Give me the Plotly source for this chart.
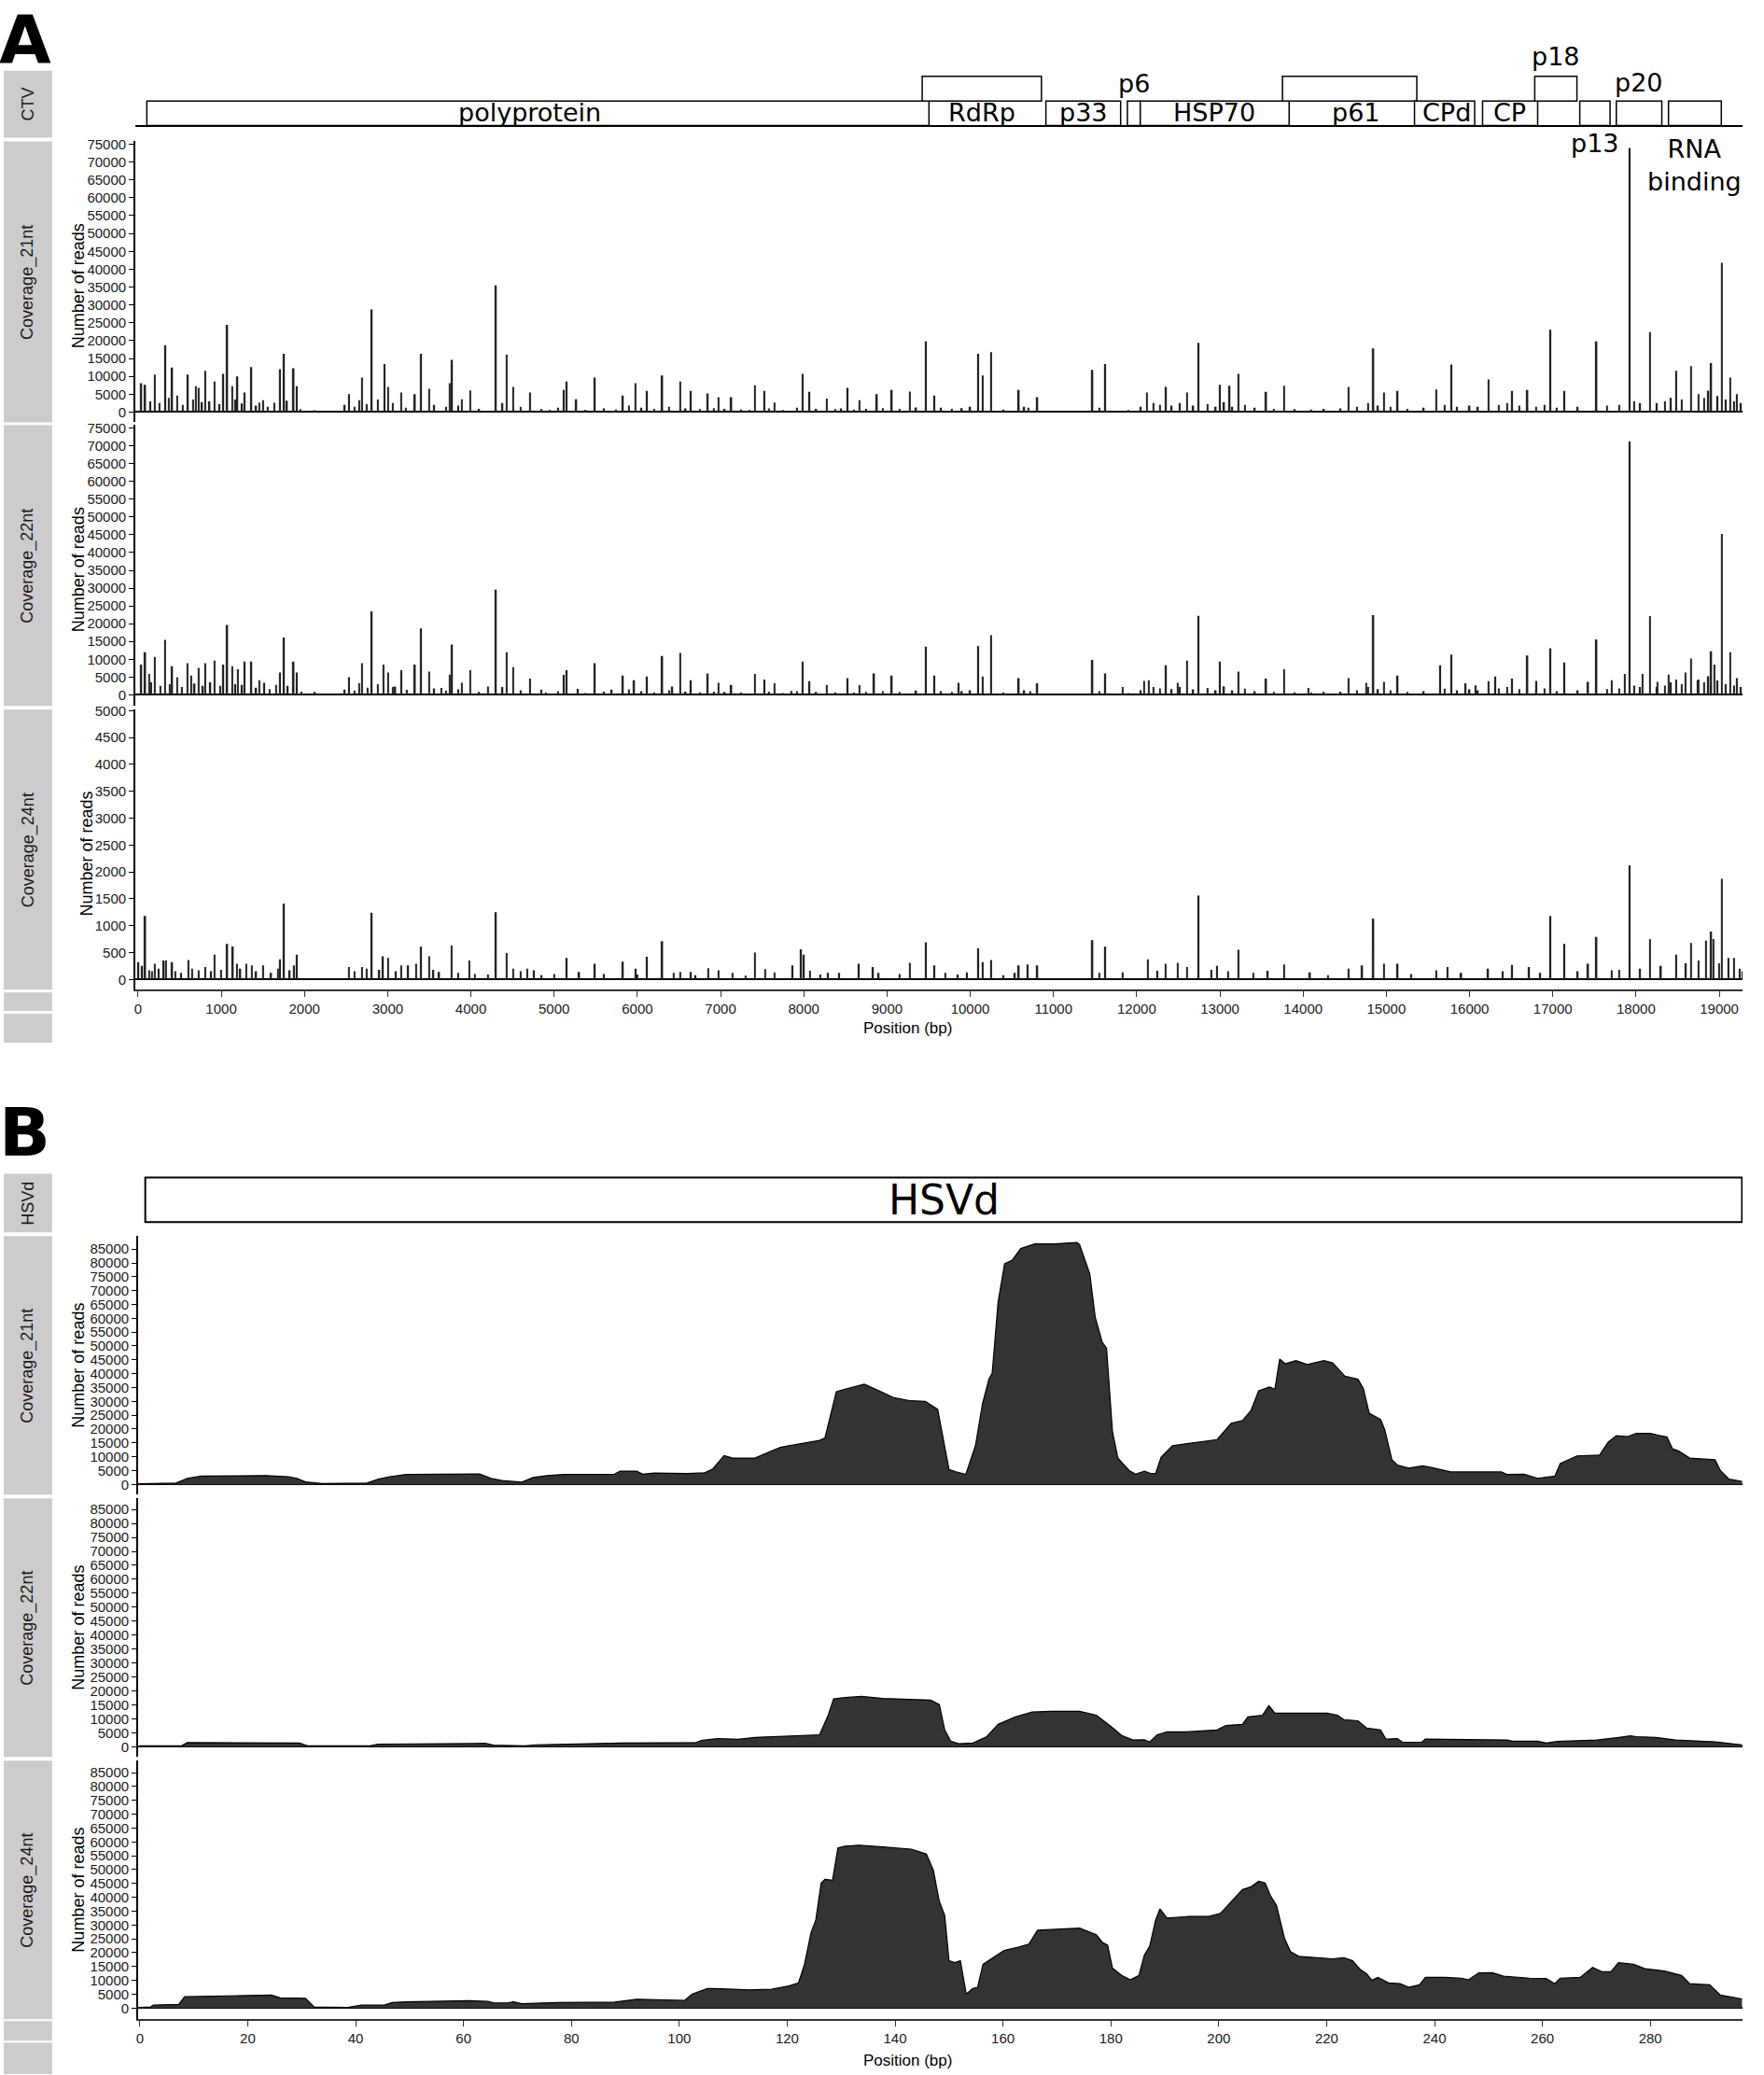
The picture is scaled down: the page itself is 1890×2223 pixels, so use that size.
import plotly.graph_objects as go

# ---- CTV genome annotation (bp) ----
ctv_gene_names = ["polyprotein", "RdRp", "p33", "p6", "HSP70", "p61", "CPd", "CP",
                  "p18", "p13", "p20", "RNA<br>binding"]
ctv_gene_start = [106, 9423, 10909, 11888, 12043, 13752, 15338, 16156, 16783, 17324, 17763, 18390]
ctv_gene_end = [9504, 10855, 11807, 12043, 13832, 15366, 16061, 16818, 17290, 17688, 18310, 19025]
ctv_gene_row = [0, 1, 0, 0, 0, 1, 0, 0, 1, 0, 0, 0]

# ---- CTV coverage, (position, reads) ----
ctv_21nt = [
    (40, 8080), (87, 7650), (202, 10510), (330, 18680), (411, 12430), (472, 4610), (600, 10510),
    (695, 7210), (729, 6780), (810, 11560), (918, 8520), (1026, 10690), (1073, 24420), (1134, 7210),
    (1195, 9990), (1282, 5470), (1363, 12600), (1458, 2690), (1505, 3300), (1708, 11990), (1755, 16340),
    (1870, 12250), (1910, 7210), (2126, 260), (2484, 2000), (2538, 5040), (2660, 3300), (2694, 9650),
    (2809, 28760), (2964, 13470), (3004, 7040), (3160, 5470), (3328, 5040), (3403, 16340), (3497, 6520),
    (3747, 8080), (3774, 14600), (3889, 3560), (3990, 6080), (4301, 35450), (4429, 16080), (4510, 7040),
    (4713, 5470), (5118, 6170), (5152, 8520), (5267, 3560), (5490, 9650), (5827, 4610), (5976, 8080),
    (6117, 5910), (6300, 10250), (6516, 8520), (6644, 5910), (6847, 5210), (6975, 4170), (7130, 4170),
    (7414, 7470), (7529, 5910), (7650, 2690), (7988, 10690), (8069, 5650), (8278, 3740), (8528, 6780),
    (8670, 3300), (8879, 5040), (9058, 6170), (9274, 5740), (9470, 19810), (9571, 4610), (10098, 16340),
    (10152, 10250), (10253, 16770), (10584, 6170), (10807, 4170), (11469, 11820), (11624, 13470),
    (12124, 5470), (12353, 7040), (12603, 5470), (12745, 19380), (13002, 7650), (13117, 7390),
    (13225, 10690), (13556, 5650), (13772, 7390), (14548, 7040), (14845, 17810), (14974, 5470),
    (15136, 5910), (15602, 6340), (15784, 13300), (16230, 9120), (16513, 5910), (16696, 6170),
    (16973, 23030), (17141, 5910), (17526, 19810), (17925, 73950), (18168, 22420), (18485, 11560),
    (18661, 12860), (18904, 13730), (19032, 41800), (19133, 9650), (19214, 5040),
    # low background
    (150, 3000), (260, 2500), (370, 4000), (540, 2000), (660, 3500), (770, 2800), (860, 3000),
    (980, 2200), (1170, 3500), (1250, 2400), (1420, 1800), (1560, 1500), (1640, 2600), (1790, 3200),
    (1950, 800), (2600, 1500), (2750, 2200), (2880, 3500), (3060, 2500), (3220, 1200), (3560, 2000),
    (3700, 1500), (3850, 1800), (4100, 900), (4380, 2500), (4600, 1500), (4850, 800), (4950, 600),
    (5050, 1200), (5380, 600), (5600, 1000), (5740, 700), (5900, 1800), (6050, 1200), (6200, 900),
    (6380, 1500), (6580, 1000), (6750, 800), (6920, 1100), (7050, 900), (7250, 700), (7350, 600),
    (7580, 1000), (7750, 600), (7920, 1200), (8150, 900), (8380, 800), (8450, 1000), (8600, 700),
    (8750, 900), (8950, 1100), (9150, 900), (9350, 1300), (9650, 1200), (9780, 900), (9900, 1100),
    (10000, 1500), (10400, 700), (10650, 1500), (10700, 1200), (11550, 1200), (11900, 600),
    (12050, 1500), (12200, 2500), (12280, 2000), (12420, 1800), (12520, 2500), (12680, 1800),
    (12850, 2200), (12950, 1500), (13050, 2800), (13150, 1500), (13300, 2000), (13420, 1200),
    (13650, 900), (13900, 800), (14100, 700), (14250, 900), (14450, 1000), (14650, 1500),
    (14780, 2500), (14900, 1800), (15050, 1500), (15250, 900), (15450, 1200), (15700, 2000),
    (15850, 1500), (16000, 1800), (16100, 1500), (16350, 2000), (16450, 2500), (16600, 1800),
    (16800, 1500), (16900, 2000), (17050, 1200), (17300, 1500), (17650, 1800), (17800, 2000),
    (17980, 3000), (18050, 2500), (18250, 2500), (18350, 3000), (18420, 4000), (18550, 3500),
    (18750, 5000), (18820, 4000), (18870, 6000), (18980, 4500), (19080, 3500), (19180, 3000),
    (19260, 2500),
]

ctv_22nt = [
    (40, 8460), (87, 11950), (134, 5840), (202, 10640), (323, 15430), (411, 8020), (472, 4970),
    (593, 8900), (641, 5400), (729, 7590), (810, 8900), (918, 9590), (1026, 8460), (1073, 19620),
    (1134, 8020), (1201, 7150), (1282, 9330), (1363, 9330), (1458, 4100), (1519, 3400), (1708, 6280),
    (1755, 16130), (1870, 9330), (1910, 6280), (2126, 780), (2484, 1480), (2538, 4970), (2660, 3230),
    (2694, 8900), (2809, 23460), (2950, 8460), (3004, 6280), (3092, 2350), (3166, 6890), (3328, 8460),
    (3403, 18660), (3497, 6540), (3646, 1920), (3747, 5670), (3774, 14130), (3889, 3400), (3990, 6890),
    (4206, 2350), (4301, 29560), (4429, 11950), (4510, 7760), (4713, 4530), (4848, 1480), (5118, 5580),
    (5152, 6890), (5287, 1660), (5490, 8900), (5692, 1480), (5827, 5400), (5962, 4100), (6117, 5140),
    (6300, 10900), (6421, 2350), (6516, 11770), (6644, 4100), (6847, 6020), (6975, 3400), (7130, 2790),
    (7414, 5840), (7529, 4270), (7650, 3230), (7853, 1050), (7988, 9330), (8069, 3840), (8278, 2790),
    (8528, 4710), (8670, 2700), (8845, 6020), (9058, 5400), (9470, 13520), (9571, 5400), (9862, 3400),
    (10098, 13690), (10152, 5140), (10253, 16740), (10584, 4710), (10807, 3230), (11469, 9770),
    (11624, 6020), (11833, 2180), (12090, 3920), (12144, 4100), (12353, 8280), (12495, 3400),
    (12603, 9590), (12745, 22240), (13002, 9330), (13225, 6540), (13556, 4530), (13772, 7150),
    (14062, 1920), (14548, 4710), (14757, 3400), (14845, 22410), (14974, 3660), (15136, 5400),
    (15649, 8280), (15784, 11340), (15953, 3230), (16074, 2620), (16230, 3840), (16311, 5140),
    (16513, 4530), (16696, 11070), (16804, 3920), (16973, 13080), (17141, 9070), (17425, 3660),
    (17526, 15610), (17709, 4100), (17864, 5840), (17925, 71240), (18080, 5840), (18168, 22150),
    (18256, 3660), (18391, 5670), (18485, 4270), (18593, 6280), (18661, 10200), (18742, 4100),
    (18904, 12210), (18944, 8460), (19032, 45260), (19133, 11950), (19214, 4710),
    # low background
    (160, 3500), (270, 2500), (380, 3000), (530, 2200), (680, 3200), (780, 2500), (870, 3500),
    (990, 2500), (1170, 3000), (1250, 2800), (1420, 2000), (1580, 1600), (1660, 2800), (1800, 2500),
    (1960, 900), (2600, 1200), (2760, 2000), (2880, 3000), (3060, 2200), (3230, 1400), (3560, 1800),
    (3700, 1200), (3850, 1500), (4100, 800), (4380, 2200), (4600, 1300), (4900, 700), (5050, 1000),
    (5380, 500), (5600, 900), (5900, 1500), (6050, 1000), (6200, 700), (6380, 1300), (6580, 900),
    (6750, 700), (6920, 900), (7050, 800), (7250, 600), (7580, 900), (7750, 500), (7920, 1000),
    (8150, 800), (8380, 700), (8600, 600), (8750, 800), (8950, 1000), (9150, 800), (9350, 1200),
    (9650, 1000), (9780, 800), (9900, 1000), (10000, 1300), (10400, 600), (10650, 1300),
    (10720, 1000), (11550, 1000), (11900, 500), (12050, 1300), (12200, 2200), (12280, 1800),
    (12420, 1600), (12520, 2200), (12680, 1500), (12850, 1900), (12950, 1300), (13050, 2400),
    (13150, 1300), (13300, 1700), (13420, 1000), (13650, 800), (13900, 700), (14100, 600),
    (14250, 800), (14450, 900), (14650, 1300), (14780, 2200), (14900, 1600), (15050, 1300),
    (15250, 800), (15450, 1000), (15700, 1700), (15850, 1300), (16000, 1500), (16100, 1300),
    (16350, 1800), (16450, 2200), (16600, 1600), (16800, 1300), (16900, 1800), (17050, 1000),
    (17300, 1300), (17650, 1600), (17800, 1800), (17980, 2600), (18050, 2200), (18250, 2200),
    (18350, 2600), (18420, 3500), (18550, 3000), (18750, 4300), (18820, 3500), (18870, 5200),
    (18980, 4000), (19080, 3000), (19180, 2600), (19260, 2200),
]

ctv_24nt = [
    (6, 320), (87, 1180), (134, 170), (202, 290), (310, 350), (337, 350), (411, 320), (607, 360),
    (729, 170), (810, 230), (918, 460), (1073, 660), (1140, 610), (1188, 290), (1303, 290),
    (1370, 260), (1505, 260), (1708, 375), (1755, 1410), (1823, 170), (1877, 260), (1910, 460),
    (2532, 230), (2694, 230), (2809, 1240), (2944, 430), (3004, 400), (3160, 260), (3247, 260),
    (3342, 290), (3403, 610), (3497, 430), (3619, 140), (3767, 630), (3983, 350), (4206, 90),
    (4301, 1250), (4429, 490), (4510, 200), (4679, 200), (4760, 170), (5152, 400), (5301, 140),
    (5490, 290), (5827, 330), (5982, 200), (6117, 420), (6300, 710), (6435, 120), (6516, 140),
    (6644, 140), (6853, 210), (6975, 170), (7144, 120), (7414, 500), (7535, 190), (7650, 130),
    (7866, 260), (7968, 560), (8002, 460), (8076, 160), (8292, 120), (8427, 120), (8663, 290),
    (8832, 230), (9274, 310), (9470, 690), (9571, 260), (9963, 130), (10098, 580), (10152, 320),
    (10253, 360), (10537, 120), (10584, 260), (10692, 280), (10807, 260), (11469, 730), (11624, 610),
    (11833, 130), (12137, 375), (12347, 290), (12495, 310), (12603, 230), (12745, 1560), (12968, 250),
    (13225, 550), (13576, 160), (13772, 280), (14083, 130), (14548, 200), (14710, 260), (14845, 1130),
    (14974, 290), (15136, 290), (15602, 170), (15737, 230), (16223, 200), (16513, 270), (16716, 230),
    (16973, 1180), (17141, 660), (17425, 290), (17526, 790), (17709, 170), (17925, 2120),
    (18168, 750), (18485, 460), (18661, 675), (18843, 720), (18904, 890), (18931, 750),
    (19032, 1870), (19113, 400), (19180, 400), (19248, 200),
    # low background
    (50, 250), (170, 150), (250, 200), (450, 150), (520, 120), (650, 200), (880, 150), (1000, 180),
    (1230, 200), (1420, 150), (1600, 120), (1680, 200), (2600, 150), (2750, 200), (2900, 180),
    (3100, 150), (3550, 180), (3850, 120), (4050, 100), (4600, 150), (4850, 80), (5000, 100),
    (5600, 100), (6000, 90), (6700, 80), (7300, 70), (8200, 90), (8900, 120), (9150, 100),
    (9700, 120), (9850, 90), (10400, 80), (11550, 120), (12250, 160), (12900, 180), (13100, 150),
    (13400, 120), (14300, 80), (15300, 100), (15900, 120), (16400, 150), (16850, 120), (17300, 150),
    (17800, 180), (18050, 200), (18300, 250), (18600, 300), (18750, 350), (19000, 300), (19280, 150),
]

# ---- HSVd coverage, (position, reads) ----
hsvd_21nt = [
    (0, 200), (6.7, 500), (8.8, 2200), (11.4, 3000), (23.4, 3200), (27.6, 2800), (29.1, 2200),
    (30.7, 900), (33.8, 300), (42.1, 500), (44.2, 1900), (46.3, 2800), (49.4, 3600), (63.0, 3800),
    (65.1, 2200), (67.1, 1400), (70.8, 800), (72.9, 2500), (75.5, 3200), (78.6, 3600), (88.0, 3700),
    (89.0, 4800), (92.1, 4800), (93.2, 3700), (95.3, 4100), (101.5, 3900), (104.7, 4200),
    (106.2, 5600), (108.3, 10400), (109.9, 9500), (114.0, 9500), (116.1, 11200), (118.7, 13400),
    (121.3, 14300), (123.4, 15100), (126.0, 15900), (127.0, 16800), (129.1, 33500), (130.7, 34400),
    (134.3, 36200), (137.7, 33200), (139.8, 31300), (142.9, 30200), (145.6, 30000), (147.9, 27100),
    (150.0, 5400), (151.3, 4500), (153.1, 3600), (154.9, 14000), (156.2, 29100), (157.4, 38000),
    (158.0, 40200), (159.1, 66000), (160.3, 79700), (161.7, 81000), (163.3, 85200), (165.9, 86900),
    (169.6, 86900), (173.7, 87400), (174.2, 86600), (176.1, 76000), (177.1, 60400), (178.4, 51400),
    (179.2, 49200), (180.3, 19000), (181.3, 9500), (183.4, 5000), (184.6, 3700), (186.2, 4800),
    (187.5, 3900), (188.3, 3900), (189.3, 9800), (191.4, 14000), (194.5, 14900), (199.7, 16200),
    (202.3, 22100), (204.4, 23100), (206.0, 26800), (207.4, 33800), (209.4, 35200), (210.4, 34400),
    (211.3, 45300), (212.3, 43600), (214.3, 44700), (216.4, 43300), (219.5, 44700), (221.1, 43900),
    (223.4, 39100), (225.8, 38000), (226.8, 34700), (227.9, 25700), (230.0, 23500), (230.8, 19600),
    (232.1, 8900), (233.1, 7000), (235.2, 5900), (237.8, 6700), (239.4, 6100), (243.0, 4500),
    (252.4, 4500), (253.4, 3600), (256.6, 3700), (259.1, 2200), (262.3, 3000), (263.3, 7500),
    (266.4, 10300), (270.6, 10600), (272.2, 15300), (273.7, 17600), (275.8, 17300), (277.4, 18400),
    (280.0, 18400), (283.1, 17100), (284.1, 12900), (285.2, 12100), (287.3, 9500), (292.0, 8900),
    (293.0, 5000), (294.6, 1900), (297.0, 1100),
]

hsvd_22nt = [
    (0, 270), (7.8, 400), (8.8, 1470), (29.6, 1330), (31.2, 270), (42.6, 270), (44.2, 930),
    (64.0, 1200), (65.6, 530), (71.3, 270), (73.4, 670), (89.0, 1330), (103.1, 1470), (104.1, 2270),
    (107.2, 2930), (110.9, 2670), (114.0, 3330), (124.4, 4000), (126.0, 4270), (127.6, 11300),
    (128.6, 17100), (130.7, 17600), (133.8, 18000), (137.7, 17300), (146.6, 16700), (148.2, 15100),
    (149.2, 6000), (150.3, 2000), (151.8, 1070), (154.4, 1330), (157.0, 3600), (159.1, 8000),
    (162.3, 10700), (165.4, 12400), (169.0, 12700), (174.2, 12700), (177.3, 11300), (180.0, 7300),
    (182.0, 4000), (184.1, 2400), (186.2, 2500), (187.2, 1700), (188.6, 4300), (190.4, 5300),
    (194.0, 5300), (199.7, 6000), (201.3, 7600), (204.4, 8000), (205.4, 10700), (208.1, 11300),
    (209.3, 14700), (210.4, 12000), (220.1, 12000), (222.0, 11300), (223.2, 9700), (225.8, 9300),
    (227.4, 6700), (230.0, 6000), (231.0, 2700), (233.1, 2900), (234.1, 1600), (237.6, 1600),
    (238.3, 2700), (253.4, 2400), (254.4, 2000), (259.1, 2000), (260.7, 1330), (262.8, 1870),
    (270.1, 2400), (274.2, 3330), (276.3, 3870), (277.4, 3600), (281.0, 3330), (284.7, 2400),
    (292.0, 1730), (297.0, 670),
]

hsvd_24nt = [
    (0, 270), (2.0, 400), (2.5, 1070), (7.2, 1340), (8.3, 4100), (24.4, 4700), (26.0, 3700),
    (30.7, 3500), (32.3, 400), (38.5, 270), (41.1, 1070), (45.3, 1070), (46.8, 2000), (49.4, 2270),
    (60.9, 2670), (64.5, 2400), (65.6, 1870), (68.2, 1870), (69.2, 2270), (70.8, 1600), (77.6, 2000),
    (88.0, 2140), (92.1, 3200), (99.4, 3070), (101.0, 2800), (102.4, 5080), (105.2, 7100),
    (107.8, 6950), (113.0, 6550), (117.1, 6800), (120.3, 8000), (122.1, 9100), (123.2, 15800),
    (124.4, 27100), (125.3, 31800), (126.3, 45200), (127.0, 46500), (128.4, 46200), (129.4, 57800),
    (130.7, 58500), (133.3, 58800), (137.7, 58200), (143.0, 57400), (145.8, 55600), (147.1, 49800),
    (148.2, 38500), (149.2, 33400), (150.0, 17100), (151.1, 16400), (152.1, 17100), (153.2, 5080),
    (154.4, 7100), (155.3, 7500), (156.3, 15800), (158.1, 18200), (160.2, 20800), (162.8, 22000),
    (164.8, 23100), (166.4, 28100), (170.0, 28500), (174.2, 28900), (177.3, 26500), (178.4, 23800),
    (179.4, 22700), (180.3, 14400), (182.0, 11800), (183.6, 10200), (185.2, 11800), (186.2, 19100),
    (187.2, 22400), (188.3, 31800), (189.1, 35800), (190.4, 32500), (194.5, 33100), (198.2, 33100),
    (200.3, 34200), (202.3, 38500), (204.4, 42800), (206.0, 43800), (207.4, 45800), (208.6, 45200),
    (209.6, 40500), (210.7, 37100), (212.2, 25100), (213.3, 20400), (214.8, 18700), (221.1, 17800),
    (223.2, 18200), (224.8, 17100), (226.3, 13800), (227.4, 12400), (228.4, 10000), (229.5, 11100),
    (231.5, 9100), (233.6, 8800), (235.2, 7500), (237.2, 8400), (238.3, 11100), (241.9, 11100),
    (245.0, 10800), (246.3, 10200), (248.2, 12700), (250.7, 12800), (252.8, 11500), (257.6, 10800),
    (260.7, 10700), (262.3, 8800), (263.3, 10800), (267.0, 11100), (269.3, 14700), (271.1, 13100),
    (272.7, 13100), (274.1, 16400), (276.9, 15800), (279.0, 14200), (282.6, 13400), (285.8, 11800),
    (287.3, 8800), (291.0, 8400), (293.0, 4700), (297.0, 3300),
]

hsvd_start, hsvd_end = 1, 297

# ---------------------------------------------------------------
W, H = 1890, 2223
DARK = "#333333"
STRIP = "#cccccc"


def py(p):  # pixel row -> paper y
    return 1 - p / H


def px(p):
    return p / W


fig = go.Figure()
shapes = []
annots = []

# panel A axis numbers: x1..x4, panel B: x5..x8
ax_a = dict(domain=[px(143), px(1867)], range=[-34, 19280])
ax_b = dict(domain=[px(146), px(1867)], range=[-0.35, 297.1])

tracks = [
    # (idx, strip label, strip px, yrange, tickvals, data, panel)
    (2, "Coverage_21nt", (144, 446), [-2865, 75781], list(range(0, 80000, 5000)), ctv_21nt, "A"),
    (3, "Coverage_22nt", (449, 751), [-3139, 75863], list(range(0, 80000, 5000)), ctv_22nt, "A"),
    (4, "Coverage_24nt", (755, 1056), [-190, 5017], list(range(0, 5500, 500)), ctv_24nt, "A"),
    (6, "Coverage_21nt", (1321, 1599), [-3696, 89704], list(range(0, 90000, 5000)), hsvd_21nt, "B"),
    (7, "Coverage_22nt", (1603, 1881), [-3667, 89000], list(range(0, 90000, 5000)), hsvd_22nt, "B"),
    (8, "Coverage_24nt", (1885, 2163), [-4015, 89350], list(range(0, 90000, 5000)), hsvd_24nt, "B"),
]

tickfont = dict(family="Liberation Sans, Arial", size=15, color="#1a1a1a")
strip_font = dict(family="Liberation Sans, Arial", size=18, color="#1a1a1a")
layout_axes = {}

for idx, lab, (top, bot), yr, tv, data, panel in tracks:
    xs = [d[0] for d in data]
    ys = [d[1] for d in data]
    if panel == "A":
        fig.add_trace(go.Bar(x=xs, y=ys, width=18, marker=dict(color="#222222", line=dict(width=0)),
                             xaxis="x%d" % idx, yaxis="y%d" % idx, showlegend=False))
        xa = dict(ax_a)
        bottom_idx = 4
        xt = list(range(0, 20000, 1000))
    else:
        fig.add_trace(go.Scatter(x=xs, y=ys, mode="lines", fill="tozeroy", fillcolor=DARK,
                                 line=dict(color="black", width=1.2),
                                 xaxis="x%d" % idx, yaxis="y%d" % idx, showlegend=False))
        xa = dict(ax_b)
        bottom_idx = 8
        xt = list(range(0, 300, 20))
    is_bottom = idx == bottom_idx
    xa.update(anchor="y%d" % idx, showgrid=False, zeroline=False,
              showticklabels=is_bottom, showline=is_bottom, linecolor="#333333", linewidth=2,
              ticks="outside" if is_bottom else "", ticklen=6, tickcolor="#333333",
              tickvals=xt, tickformat="d", tickfont=tickfont)
    layout_axes["xaxis%d" % idx] = xa
    layout_axes["yaxis%d" % idx] = dict(
        domain=[py(bot), py(top)], range=yr, anchor="x%d" % idx, showgrid=False,
        zeroline=True, zerolinecolor="black", zerolinewidth=2,
        showline=True, linecolor="black", linewidth=1.5, ticks="outside", ticklen=5,
        tickcolor="black", tickvals=tv, tickformat="d", tickfont=tickfont)
    # grey strip + label
    shapes.append(dict(type="rect", xref="paper", yref="paper", x0=px(2), x1=px(54),
                       y0=py(bot), y1=py(top), fillcolor=STRIP, line=dict(width=0), layer="below"))
    annots.append(dict(text=lab, xref="paper", yref="paper", x=px(28), y=py((top + bot) / 2),
                       xanchor="center", yanchor="middle", textangle=-90, showarrow=False,
                       font=strip_font))
    # y axis title
    tx = 91 if idx == 4 else 82
    annots.append(dict(text="Number of reads", xref="paper", yref="paper", x=px(tx),
                       y=(py(bot) + py(top)) / 2 - (0.002 if panel == "A" else 0.0),
                       xanchor="center", yanchor="middle", textangle=-90, showarrow=False,
                       font=dict(family="Liberation Sans, Arial", size=18, color="black")))

# ---- gene track A (row 0 bottom, row 1 top) ----
gene_dom = (140, 68)
gene_range = [-0.49, 2.226]
layout_axes["xaxis1"] = dict(ax_a, anchor="y1", visible=False)
layout_axes["yaxis1"] = dict(domain=[py(gene_dom[0]), py(gene_dom[1])], range=gene_range, anchor="x1",
                             showgrid=False, showticklabels=False, showline=False, ticks="",
                             zeroline=True, zerolinecolor="black", zerolinewidth=2)


def gene_paper_y(v):
    lo, hi = py(gene_dom[0]), py(gene_dom[1])
    return lo + (v - gene_range[0]) / (gene_range[1] - gene_range[0]) * (hi - lo)


label_offsets = {"p6": 1.7, "p18": 2.82, "p13": -0.72, "p20": 1.76, "RNA<br>binding": -1.62}
label_shift = {"polyprotein": -100, "p61": 80, "CPd": 20}
gene_font = dict(family="DejaVu Sans", size=27, color="black")
for name, s, e, r in zip(ctv_gene_names, ctv_gene_start, ctv_gene_end, ctv_gene_row):
    shapes.append(dict(type="rect", xref="x1", yref="y1", x0=s, x1=e, y0=r, y1=r + 1,
                       fillcolor="white", line=dict(color="black", width=1.5)))
    ly = label_offsets.get(name, 0.55)
    annots.append(dict(text=name, xref="x1", yref="paper", x=(s + e) / 2 + label_shift.get(name, 0),
                       y=gene_paper_y(ly), xanchor="center", yanchor="middle",
                       showarrow=False, font=gene_font))

# ---- gene track B ----
layout_axes["xaxis5"] = dict(ax_b, anchor="y5", visible=False)
layout_axes["yaxis5"] = dict(domain=[py(1317), py(1254)], range=[-0.229, 1.083], anchor="x5",
                             visible=False)
shapes.append(dict(type="rect", xref="x5", yref="y5", x0=hsvd_start, x1=hsvd_end, y0=0, y1=1,
                   fillcolor="white", line=dict(color="black", width=2)))
annots.append(dict(text="HSVd", xref="x5", yref="y5", x=(hsvd_start + hsvd_end) / 2, y=0.5,
                   showarrow=False, xanchor="center", yanchor="middle",
                   font=dict(family="DejaVu Sans", size=44, color="black")))

# strips for gene tracks and empty axis strips
for top, bot, lab in [(68, 140, "CTV"), (1059, 1079, ""), (1082, 1113, ""),
                      (1254, 1317, "HSVd"), (2165, 2186, ""), (2188, 2222, "")]:
    shapes.append(dict(type="rect", xref="paper", yref="paper", x0=px(2), x1=px(54),
                       y0=py(bot), y1=py(top), fillcolor=STRIP, line=dict(width=0), layer="below"))
    if lab:
        annots.append(dict(text=lab, xref="paper", yref="paper", x=px(28), y=py((top + bot) / 2),
                           xanchor="center", yanchor="middle", textangle=-90, showarrow=False,
                           font=strip_font))

# x titles and panel letters
for ypx in (1097, 2207):
    annots.append(dict(text="Position (bp)", xref="paper", yref="paper", x=px(972), y=py(ypx),
                       xanchor="center", yanchor="middle", showarrow=False,
                       font=dict(family="Liberation Sans, Arial", size=17, color="black")))
for letter, ypx in (("A", 34), ("B", 1209)):
    annots.append(dict(text="<b>%s</b>" % letter, xref="paper", yref="paper", x=px(25), y=py(ypx),
                       xanchor="center", yanchor="middle", showarrow=False,
                       font=dict(family="DejaVu Sans", size=72, color="black")))

fig.update_layout(width=W, height=H, margin=dict(l=0, r=0, t=0, b=0),
                  paper_bgcolor="white", plot_bgcolor="white",
                  shapes=shapes, annotations=annots, **layout_axes)

fig.write_html("out.html", config={"displayModeBar": False},
               post_script="document.body.style.margin='0';")
